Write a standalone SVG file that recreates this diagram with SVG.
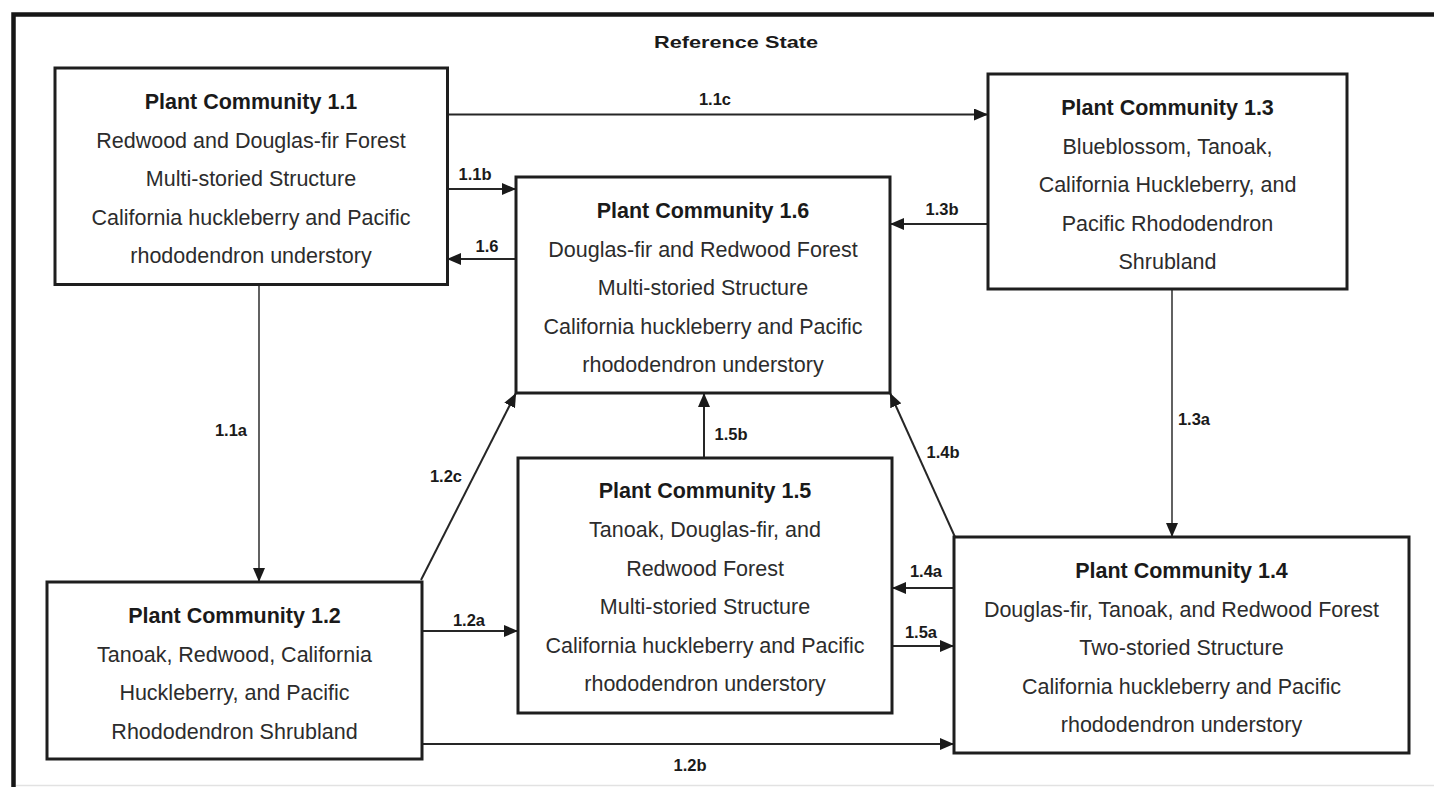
<svg xmlns="http://www.w3.org/2000/svg" width="1434" height="787" viewBox="0 0 1434 787">
<style>
.box{fill:#fff;stroke:#1e1e1e;stroke-width:3}
.t{font-family:"Liberation Sans",Arial,sans-serif;font-weight:bold;font-size:21.5px;fill:#1a1a1a;text-anchor:middle}
.b{font-family:"Liberation Sans",Arial,sans-serif;font-size:21.5px;fill:#2c2c2c;text-anchor:middle}
.lbl{font-family:"Liberation Sans",Arial,sans-serif;font-weight:bold;font-size:16.5px;fill:#1a1a1a;text-anchor:middle}
.c{fill:none;stroke:#262626;stroke-width:2}
.thin{stroke-width:1.6;stroke:#3a3a3a}
</style>
<defs>
<marker id="ah" viewBox="0 0 14 12" refX="14" refY="6" markerWidth="14" markerHeight="12" markerUnits="userSpaceOnUse" orient="auto">
<path d="M0,0 L14,6 L0,12 z" fill="#1a1a1a"/>
</marker>
</defs>
<rect width="1434" height="787" fill="#fff"/>
<g id="frame">
<path d="M13.5,787 V14.5 H1434" fill="none" stroke="#161616" stroke-width="4.5"/>
<line x1="16" y1="785.5" x2="1434" y2="785.5" stroke="#e2e2e2" stroke-width="1.5"/>
<text class="lbl" x="736" y="48" font-size="19" textLength="164" lengthAdjust="spacingAndGlyphs">Reference State</text>
</g>
<g id="connectors">
<line class="c" x1="447" y1="114.5" x2="988" y2="114.5" marker-end="url(#ah)"/>
<line class="c" x1="447" y1="189" x2="516" y2="189" marker-end="url(#ah)"/>
<line class="c" x1="516" y1="259" x2="447" y2="259" marker-end="url(#ah)"/>
<line class="c" x1="988" y1="224" x2="890" y2="224" marker-end="url(#ah)"/>
<line class="c thin" x1="259" y1="285" x2="259" y2="582" marker-end="url(#ah)"/>
<line class="c thin" x1="1172" y1="289" x2="1172" y2="537" marker-end="url(#ah)"/>
<line class="c" x1="421" y1="580" x2="516" y2="393" marker-end="url(#ah)"/>
<line class="c" x1="704" y1="458" x2="704" y2="393" marker-end="url(#ah)"/>
<line class="c" x1="955" y1="537" x2="890" y2="393" marker-end="url(#ah)"/>
<line class="c" x1="422" y1="631" x2="518" y2="631" marker-end="url(#ah)"/>
<line class="c" x1="954" y1="588" x2="892" y2="588" marker-end="url(#ah)"/>
<line class="c" x1="892" y1="646" x2="954" y2="646" marker-end="url(#ah)"/>
<line class="c" x1="422" y1="744" x2="954" y2="744" marker-end="url(#ah)"/>
<text class="lbl" x="715" y="105">1.1c</text>
<text class="lbl" x="475" y="180">1.1b</text>
<text class="lbl" x="487" y="252">1.6</text>
<text class="lbl" x="942" y="215">1.3b</text>
<text class="lbl" x="231" y="436">1.1a</text>
<text class="lbl" x="446" y="482">1.2c</text>
<text class="lbl" x="731" y="440">1.5b</text>
<text class="lbl" x="943" y="458">1.4b</text>
<text class="lbl" x="1194" y="425">1.3a</text>
<text class="lbl" x="469" y="626">1.2a</text>
<text class="lbl" x="926" y="577">1.4a</text>
<text class="lbl" x="921" y="638">1.5a</text>
<text class="lbl" x="690" y="771">1.2b</text>
</g>
<g id="pc11">
<rect class="box" x="55" y="68" width="392.5" height="216.5"/>
<text class="t" x="251" y="109">Plant Community 1.1</text>
<text class="b" x="251" y="147.5">Redwood and Douglas-fir Forest</text>
<text class="b" x="251" y="186">Multi-storied Structure</text>
<text class="b" x="251" y="224.5">California huckleberry and Pacific</text>
<text class="b" x="251" y="263">rhododendron understory</text>
</g>
<g id="pc16">
<rect class="box" x="516" y="177" width="374" height="216"/>
<text class="t" x="703" y="218">Plant Community 1.6</text>
<text class="b" x="703" y="256.5">Douglas-fir and Redwood Forest</text>
<text class="b" x="703" y="295">Multi-storied Structure</text>
<text class="b" x="703" y="333.5">California huckleberry and Pacific</text>
<text class="b" x="703" y="372">rhododendron understory</text>
</g>
<g id="pc13">
<rect class="box" x="988" y="74" width="359" height="215"/>
<text class="t" x="1167.5" y="115">Plant Community 1.3</text>
<text class="b" x="1167.5" y="153.5">Blueblossom, Tanoak,</text>
<text class="b" x="1167.5" y="192">California Huckleberry, and</text>
<text class="b" x="1167.5" y="230.5">Pacific Rhododendron</text>
<text class="b" x="1167.5" y="269">Shrubland</text>
</g>
<g id="pc12">
<rect class="box" x="47" y="582" width="375" height="177"/>
<text class="t" x="234.5" y="623">Plant Community 1.2</text>
<text class="b" x="234.5" y="661.5">Tanoak, Redwood, California</text>
<text class="b" x="234.5" y="700">Huckleberry, and Pacific</text>
<text class="b" x="234.5" y="738.5">Rhododendron Shrubland</text>
</g>
<g id="pc15">
<rect class="box" x="518" y="458" width="374" height="255"/>
<text class="t" x="705" y="498">Plant Community 1.5</text>
<text class="b" x="705" y="537">Tanoak, Douglas-fir, and</text>
<text class="b" x="705" y="575.5">Redwood Forest</text>
<text class="b" x="705" y="614">Multi-storied Structure</text>
<text class="b" x="705" y="652.5">California huckleberry and Pacific</text>
<text class="b" x="705" y="691">rhododendron understory</text>
</g>
<g id="pc14">
<rect class="box" x="954" y="537" width="455" height="216"/>
<text class="t" x="1181.5" y="578">Plant Community 1.4</text>
<text class="b" x="1181.5" y="616.5">Douglas-fir, Tanoak, and Redwood Forest</text>
<text class="b" x="1181.5" y="655">Two-storied Structure</text>
<text class="b" x="1181.5" y="693.5">California huckleberry and Pacific</text>
<text class="b" x="1181.5" y="732">rhododendron understory</text>
</g>
</svg>
